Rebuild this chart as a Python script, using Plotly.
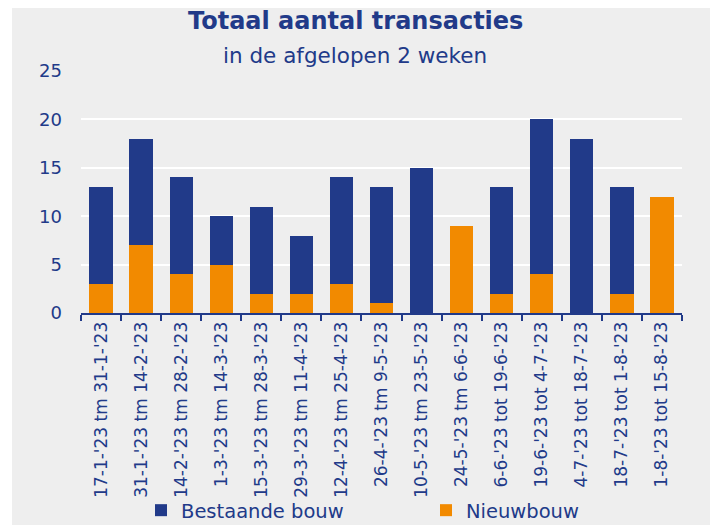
import plotly.graph_objects as go

categories = [
    "17-1-'23 tm 31-1-'23", "31-1-'23 tm 14-2-'23", "14-2-'23 tm 28-2-'23",
    "1-3-'23 tm 14-3-'23", "15-3-'23 tm 28-3-'23", "29-3-'23 tm 11-4-'23",
    "12-4-'23 tm 25-4-'23", "26-4-'23 tm 9-5-'23", "10-5-'23 tm 23-5-'23",
    "24-5-'23 tm 6-6-'23", "6-6-'23 tot 19-6-'23", "19-6-'23 tot 4-7-'23",
    "4-7-'23 tot 18-7-'23", "18-7-'23 tot 1-8-'23", "1-8-'23 tot 15-8-'23",
]
nieuwbouw = [3, 7, 4, 5, 2, 2, 3, 1, 0, 9, 2, 4, 0, 2, 12]
bestaande = [10, 11, 10, 5, 9, 6, 11, 12, 15, 0, 11, 16, 18, 11, 0]

BLUE = "#213a89"
ORANGE = "#f28a00"
FONT = "DejaVu Sans"

fig = go.Figure()
fig.add_trace(go.Bar(x=categories, y=nieuwbouw, name="Nieuwbouw", marker_color=ORANGE,
                     marker_line_width=0))
fig.add_trace(go.Bar(x=categories, y=bestaande, name="Bestaande bouw", marker_color=BLUE,
                     marker_line_width=0))

W, H = 710, 517
L, T = 73, 63
PR, PB = 674, 305  # plot right / bottom in figure px
R, B = W - PR, H - PB
pw = PR - L
ph = PB - T


def px(x):
    return (x - L) / pw


def py(y):
    return (PB - y) / ph


fig.update_layout(
    template="none",
    width=W, height=H,
    barmode="stack", bargap=0.42,
    paper_bgcolor="white", plot_bgcolor="rgba(0,0,0,0)",
    margin=dict(l=L, r=R, t=T, b=B, pad=0, autoexpand=False),
    font=dict(family=FONT, color=BLUE),
    showlegend=True,
    legend=dict(orientation="h", traceorder="reversed", x=px(133), xanchor="left",
                y=py(483), yanchor="top", font=dict(size=19.5, color=BLUE, family=FONT),
                entrywidth=240, bgcolor="rgba(0,0,0,0)", itemwidth=30),
    shapes=[dict(type="rect", xref="paper", yref="paper", layer="below",
                 x0=px(4), x1=px(705), y0=py(530), y1=py(0),
                 fillcolor="#eeeeee", line_width=0)],
    annotations=[
        dict(text="<b>Totaal aantal transacties</b>", xref="paper", yref="paper",
             x=px(347), y=py(13), xanchor="center", yanchor="middle",
             showarrow=False, font=dict(size=24, color=BLUE, family=FONT)),
        dict(text="in de afgelopen 2 weken", xref="paper", yref="paper",
             x=px(347), y=py(47), xanchor="center", yanchor="middle",
             showarrow=False, font=dict(size=21.5, color=BLUE, family=FONT)),
    ],
)
fig.update_yaxes(range=[0, 25], dtick=5, showgrid=True, gridcolor="white", gridwidth=2,
                 zeroline=False, showline=False, tickfont=dict(size=18, color=BLUE),
                 ticks="", ticklabelstandoff=18, automargin=False)
fig.update_xaxes(showline=True, linecolor=BLUE, linewidth=2, ticks="outside",
                 tickson="boundaries", ticklen=6, tickcolor=BLUE, tickwidth=2,
                 tickangle=-90, tickfont=dict(size=17, color=BLUE), showgrid=False,
                 automargin=False)

fig.write_html("out.html")
